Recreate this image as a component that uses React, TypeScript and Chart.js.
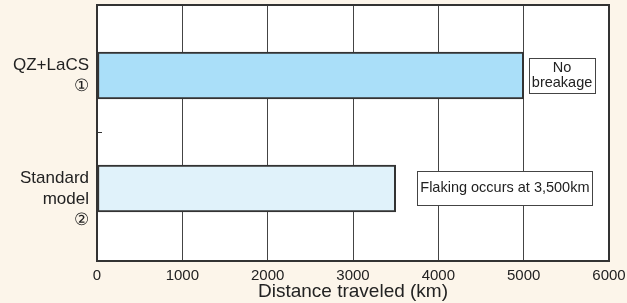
import React, { useEffect, useRef } from "react";
import { Chart, registerables } from "chart.js";

Chart.register(...registerables);

const categories: string[][] = [["QZ+LaCS", "①"], ["", "Standard", "model", "②"]];
const distances: number[] = [5000, 3500];
const xTicks: number[] = [0, 1000, 2000, 3000, 4000, 5000, 6000];
const noteTexts: string[][] = [["No", "breakage"], ["Flaking occurs at 3,500km"]];
const noteXValues: number[] = [5450, 4780];

const FONT = "'Liberation Sans', Arial, Helvetica, sans-serif";

export default function App() {
  const ref = useRef<HTMLCanvasElement | null>(null);

  useEffect(() => {
    document.body.style.margin = "0";
    const canvas = ref.current;
    if (!canvas) return;

    const framePlugin = {
      id: "frame",
      beforeDraw(chart: any) {
        const { ctx, chartArea: a } = chart;
        ctx.save();
        ctx.fillStyle = "#ffffff";
        ctx.fillRect(a.left, a.top, a.right - a.left, a.bottom - a.top);
        ctx.restore();
      },
      afterDraw(chart: any) {
        const { ctx, chartArea: a, scales } = chart;
        ctx.save();
        const yMid = Math.round(scales.y.getPixelForValue(0.5)) + 0.5;
        ctx.strokeStyle = "#333";
        ctx.lineWidth = 1;
        ctx.beginPath();
        ctx.moveTo(a.left, yMid);
        ctx.lineTo(a.left + 5, yMid);
        ctx.stroke();
        ctx.font = `14.5px ${FONT}`;
        ctx.textAlign = "center";
        ctx.textBaseline = "middle";
        noteTexts.forEach((lines, i) => {
          const cx = scales.x.getPixelForValue(noteXValues[i]);
          const cy = scales.y.getPixelForValue(i);
          const lh = 15;
          const w = Math.max(...lines.map((l) => ctx.measureText(l).width)) + 6;
          const h = lines.length === 1 ? 34 : lines.length * lh + 5;
          ctx.fillStyle = "#fff";
          ctx.fillRect(cx - w / 2, cy - h / 2, w, h);
          ctx.strokeStyle = "#444";
          ctx.lineWidth = 1;
          ctx.strokeRect(Math.round(cx - w / 2) + 0.5, Math.round(cy - h / 2) + 0.5, Math.round(w), Math.round(h));
          ctx.fillStyle = "#222";
          lines.forEach((l, k) => {
            ctx.fillText(l, cx, cy + (k - (lines.length - 1) / 2) * lh);
          });
        });
        ctx.strokeStyle = "#333";
        ctx.lineWidth = 2;
        ctx.strokeRect(a.left, a.top, a.right - a.left, a.bottom - a.top);
        ctx.restore();
      },
    };

    const chart = new Chart(canvas, {
      type: "bar",
      data: {
        datasets: [
          {
            data: distances.map((d, i) => ({ x: d, y: i })),
            backgroundColor: ["#aadff9", "#e0f2fa"],
            borderColor: "#333",
            borderWidth: 2,
            borderSkipped: false,
            barThickness: 47,
          },
        ],
      },
      options: {
        indexAxis: "y",
        animation: false,
        responsive: false,
        maintainAspectRatio: false,
        layout: { padding: { top: 5, right: 18, left: 0, bottom: 0 } },
        plugins: { legend: { display: false }, tooltip: { enabled: false } },
        scales: {
          x: {
            type: "linear",
            min: 0,
            max: 6000,
            offset: false,
            afterBuildTicks: (s: any) => {
              s.ticks = xTicks.map((v) => ({ value: v }));
            },
            afterFit: (s: any) => {
              s.height = 42;
              s.paddingLeft = 0;
              s.paddingRight = 0;
            },
            grid: { color: "#444", lineWidth: 1, drawTicks: false },
            border: { display: false },
            ticks: {
              color: "#222",
              font: { family: FONT, size: 15 },
              padding: 6,
              maxRotation: 0,
              callback: (v: any) => String(v),
            },
            title: {
              display: true,
              text: "Distance traveled (km)",
              color: "#222",
              font: { family: FONT, size: 19 },
              padding: { top: 0, bottom: 0 },
            },
          },
          y: {
            type: "linear",
            reverse: true,
            offset: false,
            min: -0.624,
            max: 1.642,
            afterBuildTicks: (s: any) => {
              s.ticks = categories.map((_, i) => ({ value: i }));
            },
            afterFit: (s: any) => {
              s.width = 97;
              s.paddingTop = 0;
              s.paddingBottom = 0;
            },
            grid: { display: false, drawTicks: false },
            border: { display: false },
            ticks: {
              color: "#222",
              font: { family: FONT, size: 17, lineHeight: 1.25 },
              padding: 8,
              callback: (v: any) => categories[Math.round(Number(v))] ?? "",
            },
          },
        },
      },
      plugins: [framePlugin],
    } as any);

    return () => chart.destroy();
  }, []);

  return (
    <div style={{ width: 627, height: 303, background: "#fcf5ea" }}>
      <canvas ref={ref} width={627} height={303} style={{ display: "block" }} />
    </div>
  );
}
